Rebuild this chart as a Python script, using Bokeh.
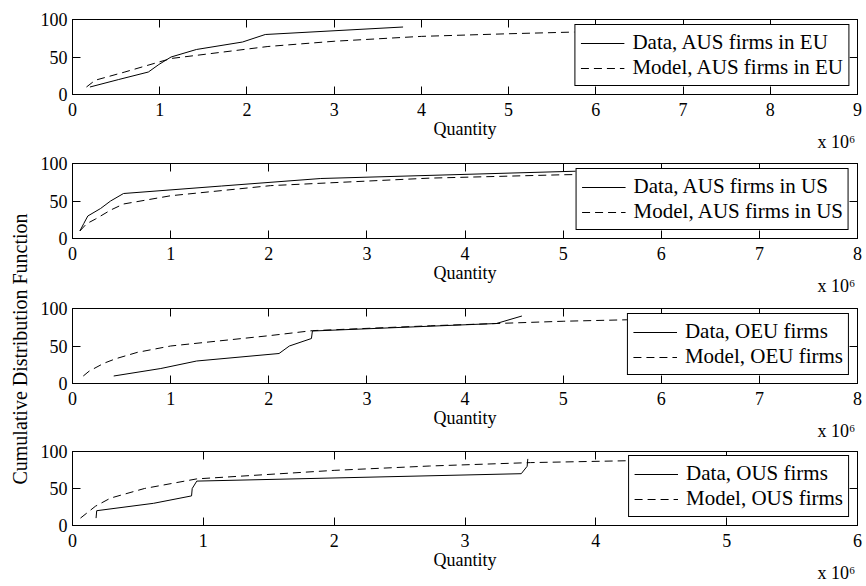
from bokeh.plotting import figure
from bokeh.layouts import row, column
from bokeh.models import (Range1d, SingleIntervalTicker, FixedTicker, LinearAxis,
                          Legend, LegendItem)
from bokeh.embed import file_html
from bokeh.resources import INLINE

FONT = "Liberation Serif"

# ---------------- data (quantities in units of 10^6) ----------------
x_max = [9, 8, 8, 6]
y_ticks = [0, 50, 100]
x_label = "Quantity"
y_label = "Cumulative Distribution Function"
x_multiplier = "x 10\u2076"

data_labels = ["Data, AUS firms in EU", "Data, AUS firms in US",
               "Data, OEU firms", "Data, OUS firms"]
model_labels = ["Model, AUS firms in EU", "Model, AUS firms in US",
                "Model, OEU firms", "Model, OUS firms"]

data_cdf = [10, 20, 30, 40, 50, 60, 70, 80, 90]

data1_q = [0.20, 0.53, 0.87, 0.99, 1.13, 1.42, 1.95, 2.21, 3.79]
model1_q = [0.16, 0.26, 0.60, 1.13, 2.24, 3.00, 4.00, 5.00, 6.00, 7.00, 8.00, 8.80]
model1_cdf = [10, 19, 30, 48, 64, 71, 77.5, 81, 84, 86, 88.5, 90]

data2_q = [0.075, 0.115, 0.156, 0.286, 0.388, 0.52, 1.52, 2.53, 5.2]
model2_q = [0.075, 0.143, 0.235, 0.39, 0.52, 1.0, 2.02, 3.64, 5.0, 6.0, 7.58]
model2_cdf = [10, 19.6, 26, 38, 46, 57, 70.5, 80.5, 85, 87, 90]

data3_q = [0.42, 0.90, 1.265, 2.105, 2.21, 2.435, 2.445, 4.32, 4.58]
model3_q = [0.11, 0.17, 0.32, 0.44, 0.66, 1.0, 2.02, 2.445, 3.65, 5.0, 6.0, 7.73]
model3_cdf = [10, 16.5, 27, 33, 41.5, 50, 64, 70.5, 77, 83, 86, 90]

data4_q = [0.18, 0.185, 0.62, 0.91, 0.915, 0.95, 3.43, 3.475, 3.48]
model4_q = [0.061, 0.175, 0.29, 0.55, 0.95, 2.0, 2.73, 3.5, 4.5, 5.9]
model4_cdf = [10, 26, 37, 50, 63, 74.5, 80.4, 85, 88.4, 90]

panels = [
    (data1_q, data_cdf, model1_q, model1_cdf),
    (data2_q, data_cdf, model2_q, model2_cdf),
    (data3_q, data_cdf, model3_q, model3_cdf),
    (data4_q, data_cdf, model4_q, model4_cdf),
]

# ---------------- layout ----------------
LABEL_W = 36
FIG_W = 828
BORDER_L = 36
BORDER_R = 7
FRAME_W = FIG_W - BORDER_L - BORDER_R
heights = [154, 144, 145, 142]
border_top = [19, 9, 10, 8]
border_bottom = [60, 60, 60, 59]
TOTAL_H = sum(heights)
MULT_INSET_PX = 21   # centre of the "x 10^6" text, measured in from the right edge


def style_axis(ax, show_labels=True):
    ax.axis_line_color = "black"
    ax.axis_line_width = 1
    ax.major_tick_line_color = "black"
    ax.major_tick_line_width = 1
    ax.major_tick_in = 8
    ax.major_tick_out = 0
    ax.minor_tick_line_color = None
    ax.major_label_text_font = FONT
    ax.major_label_text_color = "black"
    if show_labels:
        ax.major_label_text_font_size = "18px"
    else:
        ax.major_label_text_font_size = "0px"
        ax.major_label_text_color = None
        ax.major_label_standoff = 0


figs = []
for i, (dq, dc, mq, mc) in enumerate(panels):
    xm = x_max[i]
    p = figure(width=FIG_W, height=heights[i],
               x_range=Range1d(0, xm), y_range=Range1d(0, 100),
               output_backend="svg", toolbar_location=None,
               min_border_left=BORDER_L, min_border_right=BORDER_R,
               min_border_top=border_top[i], min_border_bottom=border_bottom[i])
    p.xgrid.grid_line_color = None
    p.ygrid.grid_line_color = None
    p.outline_line_color = "black"
    p.outline_line_alpha = 1
    p.outline_line_width = 1
    p.background_fill_color = "white"
    p.border_fill_color = "white"

    p.xaxis.ticker = SingleIntervalTicker(interval=1, num_minor_ticks=0)
    p.yaxis.ticker = FixedTicker(ticks=y_ticks)
    style_axis(p.xaxis[0])
    style_axis(p.yaxis[0])
    p.xaxis.major_label_standoff = 8
    p.yaxis.major_label_standoff = 5
    p.xaxis.axis_label = x_label
    p.xaxis.axis_label_text_font = FONT
    p.xaxis.axis_label_text_font_size = "18px"
    p.xaxis.axis_label_text_font_style = "normal"
    p.xaxis.axis_label_text_color = "black"
    p.xaxis.axis_label_standoff = 0

    # multiplier "x 10^6" under the axis, near the right end
    mult_pos = xm - MULT_INSET_PX * xm / FRAME_W
    mult_ax = LinearAxis(ticker=FixedTicker(ticks=[mult_pos]),
                         major_label_overrides={mult_pos: x_multiplier},
                         major_label_text_font=FONT, major_label_text_font_size="18px",
                         major_label_text_color="black", major_label_standoff=-10,
                         axis_line_color=None, major_tick_line_color=None,
                         minor_tick_line_color=None, major_tick_out=0, major_tick_in=0)
    p.add_layout(mult_ax, "below")

    top_ax = LinearAxis(ticker=SingleIntervalTicker(interval=1, num_minor_ticks=0))
    style_axis(top_ax, show_labels=False)
    p.add_layout(top_ax, "above")
    right_ax = LinearAxis(ticker=FixedTicker(ticks=y_ticks))
    style_axis(right_ax, show_labels=False)
    p.add_layout(right_ax, "right")

    r_data = p.line(dq, dc, line_color="black", line_width=1)
    r_model = p.line(mq, mc, line_color="black", line_width=1, line_dash="8 5")

    legend = Legend(items=[LegendItem(label=data_labels[i], renderers=[r_data]),
                           LegendItem(label=model_labels[i], renderers=[r_model])],
                    location="bottom_right", margin=8, padding=5, spacing=0,
                    glyph_width=44, glyph_height=22, label_height=22,
                    label_standoff=8,
                    label_text_font=FONT, label_text_font_size="21px",
                    label_text_color="black", label_text_baseline="middle",
                    border_line_color="black", border_line_width=1, border_line_alpha=1,
                    background_fill_color="white", background_fill_alpha=1)
    p.add_layout(legend)
    figs.append(p)

# narrow figure carrying the shared y-axis title, centred on the third panel
lab_top = heights[0] + heights[1] + border_top[2] + 3
lab = figure(width=LABEL_W, height=TOTAL_H, output_backend="svg", toolbar_location=None,
             x_axis_type=None, x_range=Range1d(0, 1), y_range=Range1d(0, 1),
             min_border_left=30, min_border_right=0,
             min_border_top=lab_top,
             min_border_bottom=TOTAL_H - lab_top - 75)
lab.outline_line_color = None
lab.xgrid.grid_line_color = None
lab.ygrid.grid_line_color = None
lab.yaxis.ticker = FixedTicker(ticks=[])
lab.yaxis.axis_line_color = None
lab.yaxis.major_tick_line_color = None
lab.yaxis.minor_tick_line_color = None
lab.yaxis.major_label_text_font_size = "0px"
lab.yaxis.major_label_standoff = 0
lab.yaxis.major_tick_out = 0
lab.yaxis.axis_label = y_label
lab.yaxis.axis_label_standoff = 0
lab.yaxis.axis_label_text_font = FONT
lab.yaxis.axis_label_text_font_size = "20px"
lab.yaxis.axis_label_text_font_style = "normal"
lab.yaxis.axis_label_text_color = "black"

layout = row(lab, column(*figs))
open("out.html", "w").write(file_html(layout, INLINE))
